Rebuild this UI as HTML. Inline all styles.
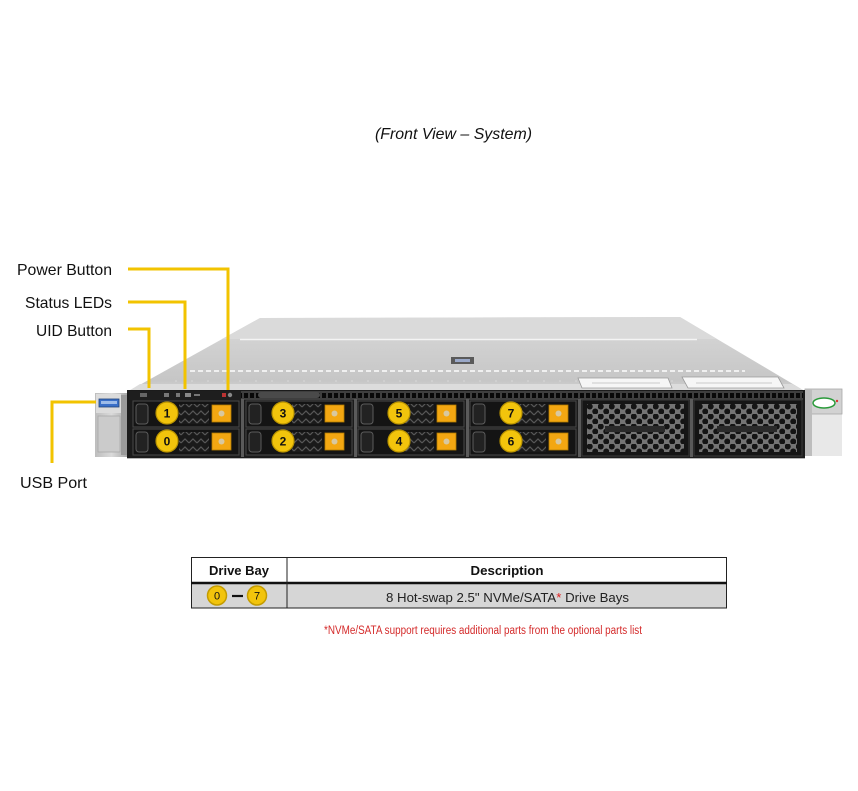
<!DOCTYPE html>
<html><head><meta charset="utf-8"><style>
html,body{margin:0;padding:0;background:#fff;}
svg{display:block;}
text{font-family:"Liberation Sans",Arial,sans-serif;}
</style></head><body>
<svg width="858" height="791" viewBox="0 0 858 791" xmlns="http://www.w3.org/2000/svg">
<defs>
  <linearGradient id="topg" x1="0" y1="0" x2="0" y2="1">
    <stop offset="0" stop-color="#dcdcdc"/>
    <stop offset="0.3" stop-color="#d2d2d2"/>
    <stop offset="0.85" stop-color="#c6c6c6"/>
    <stop offset="1" stop-color="#d6d6d6"/>
  </linearGradient>
  <linearGradient id="earg" x1="0" y1="0" x2="1" y2="0">
    <stop offset="0" stop-color="#bdbdbd"/>
    <stop offset="0.5" stop-color="#dadada"/>
    <stop offset="1" stop-color="#a8a8a8"/>
  </linearGradient>
  <pattern id="vent" width="6" height="9" patternUnits="userSpaceOnUse" x="129" y="391">
    <rect width="6" height="9" fill="#3e3e3e"/>
    <rect x="1" y="2" width="4" height="5" fill="#080808"/>
  </pattern>
  <pattern id="hex" width="11" height="10" patternUnits="userSpaceOnUse" x="587" y="404">
    <rect width="11" height="10" fill="#747474"/>
    <circle cx="2.75" cy="2.5" r="3" fill="#141414"/>
    <circle cx="8.25" cy="7.5" r="3" fill="#141414"/>
  </pattern>
  <pattern id="grill" width="8" height="8" patternUnits="userSpaceOnUse">
    <rect width="8" height="8" fill="#1a1a1a"/>
    <path d="M0 6 L4 2 L8 6" stroke="#585858" stroke-width="1.2" fill="none"/>
  </pattern>
</defs>

<!-- Title -->
<text x="375" y="139" font-size="16" font-style="italic" fill="#111" textLength="157" lengthAdjust="spacingAndGlyphs">(Front View – System)</text>

<!-- Chassis top -->
<polygon points="260,318 680,317 803,390 127,392" fill="url(#topg)"/>
<polygon points="260,318 680,317 717,339 222,339" fill="#dadada"/>
<line x1="240" y1="339.5" x2="697" y2="339.5" stroke="#f4f4f4" stroke-width="1.5"/>
<line x1="190" y1="371" x2="745" y2="371" stroke="#f0f0f0" stroke-width="2" stroke-dasharray="5,3"/>
<line x1="175" y1="381" x2="770" y2="381" stroke="#d8d8d8" stroke-width="1" stroke-dasharray="2,14"/>
<polygon points="140,384 792,384 803,390 127,392" fill="#dcdcdc"/>
<rect x="451" y="357" width="23" height="7" fill="#5a5a5a"/>
<rect x="455" y="359" width="15" height="3" fill="#9aa8c8"/>
<polygon points="578,378 668,378 672,388 582,388" fill="#f6f6f6" stroke="#9a9a9a" stroke-width="0.8"/>
<line x1="592" y1="383" x2="660" y2="383" stroke="#bbb" stroke-width="0.8"/>
<polygon points="682,377 778,377 784,388 688,388" fill="#f6f6f6" stroke="#9a9a9a" stroke-width="0.8"/>
<line x1="696" y1="383" x2="772" y2="383" stroke="#bbb" stroke-width="0.8"/>

<!-- Left ear -->
<rect x="95" y="393" width="33" height="64" fill="url(#earg)"/>
<rect x="96" y="394" width="25" height="19" fill="#dcdcdc"/>
<rect x="99" y="399" width="20" height="8" fill="#3a6fc8" stroke="#22447a" stroke-width="0.8"/>
<rect x="101" y="401" width="16" height="3" fill="#9dbbe8"/>
<rect x="98" y="416" width="22" height="36" fill="#cbcbcb" stroke="#a8a8a8" stroke-width="0.8"/>
<rect x="121" y="395" width="6" height="60" fill="#9a9a9a"/>

<!-- Right ear -->
<rect x="805" y="414" width="37" height="42" fill="#e8e8e8"/>
<rect x="805" y="389" width="37" height="25" fill="#d2d2d2" stroke="#a8a8a8" stroke-width="0.8"/>
<ellipse cx="824" cy="403" rx="11" ry="5" fill="#fff" stroke="#2a9a3a" stroke-width="1.5"/>
<circle cx="837" cy="401" r="1.2" fill="#d33"/>
<rect x="805" y="389" width="7" height="67" fill="#bdbdbd"/>

<!-- Front panel -->
<rect x="127" y="390" width="678" height="68" fill="#1b1b1b"/>
<rect x="129" y="391" width="674" height="9" fill="url(#vent)"/>
<rect x="129" y="391" width="112" height="9" fill="#1e1e1e"/>
<rect x="140" y="393" width="7" height="4" fill="#666"/>
<rect x="185" y="393" width="6" height="4" fill="#888"/>
<rect x="164" y="393" width="5" height="4" fill="#777"/>
<rect x="176" y="393" width="4" height="4" fill="#777"/>
<rect x="194" y="394" width="6" height="2" fill="#777"/>
<rect x="222" y="393" width="4" height="4" fill="#b33"/>
<circle cx="230" cy="395" r="2.2" fill="#888"/>
<rect x="258" y="392" width="62" height="6" rx="3" fill="#4a4a4a"/>
<line x1="127" y1="458.5" x2="805" y2="458.5" stroke="#b5b5b5" stroke-width="1"/>

<!-- Column dividers -->
<g fill="#5a5a5a">
<rect x="241" y="399" width="3" height="58"/>
<rect x="354" y="399" width="3" height="58"/>
<rect x="466" y="399" width="3" height="58"/>
<rect x="578" y="399" width="3" height="58"/>
<rect x="690" y="399" width="3" height="58"/>
</g>

<!-- Drive slots -->
<g>
  <g transform="translate(133,401)">
    <rect width="106" height="26" fill="#141414" stroke="#4a4a4a"/>
    <rect x="3" y="3" width="12" height="20" rx="3" fill="#222" stroke="#5c5c5c"/>
    <rect x="46" y="3" width="30" height="20" fill="url(#grill)"/>
    <rect x="79" y="4" width="19" height="17" fill="#f3a712" stroke="#b67c00" stroke-width="0.8"/>
    <circle cx="88.5" cy="12.5" r="3" fill="#d8c8a0"/>
  </g>
  <g transform="translate(133,429)">
    <rect width="106" height="26" fill="#141414" stroke="#4a4a4a"/>
    <rect x="3" y="3" width="12" height="20" rx="3" fill="#222" stroke="#5c5c5c"/>
    <rect x="46" y="3" width="30" height="20" fill="url(#grill)"/>
    <rect x="79" y="4" width="19" height="17" fill="#f3a712" stroke="#b67c00" stroke-width="0.8"/>
    <circle cx="88.5" cy="12.5" r="3" fill="#d8c8a0"/>
  </g>
  <g transform="translate(246,401)">
    <rect width="106" height="26" fill="#141414" stroke="#4a4a4a"/>
    <rect x="3" y="3" width="12" height="20" rx="3" fill="#222" stroke="#5c5c5c"/>
    <rect x="46" y="3" width="30" height="20" fill="url(#grill)"/>
    <rect x="79" y="4" width="19" height="17" fill="#f3a712" stroke="#b67c00" stroke-width="0.8"/>
    <circle cx="88.5" cy="12.5" r="3" fill="#d8c8a0"/>
  </g>
  <g transform="translate(246,429)">
    <rect width="106" height="26" fill="#141414" stroke="#4a4a4a"/>
    <rect x="3" y="3" width="12" height="20" rx="3" fill="#222" stroke="#5c5c5c"/>
    <rect x="46" y="3" width="30" height="20" fill="url(#grill)"/>
    <rect x="79" y="4" width="19" height="17" fill="#f3a712" stroke="#b67c00" stroke-width="0.8"/>
    <circle cx="88.5" cy="12.5" r="3" fill="#d8c8a0"/>
  </g>
  <g transform="translate(358,401)">
    <rect width="106" height="26" fill="#141414" stroke="#4a4a4a"/>
    <rect x="3" y="3" width="12" height="20" rx="3" fill="#222" stroke="#5c5c5c"/>
    <rect x="46" y="3" width="30" height="20" fill="url(#grill)"/>
    <rect x="79" y="4" width="19" height="17" fill="#f3a712" stroke="#b67c00" stroke-width="0.8"/>
    <circle cx="88.5" cy="12.5" r="3" fill="#d8c8a0"/>
  </g>
  <g transform="translate(358,429)">
    <rect width="106" height="26" fill="#141414" stroke="#4a4a4a"/>
    <rect x="3" y="3" width="12" height="20" rx="3" fill="#222" stroke="#5c5c5c"/>
    <rect x="46" y="3" width="30" height="20" fill="url(#grill)"/>
    <rect x="79" y="4" width="19" height="17" fill="#f3a712" stroke="#b67c00" stroke-width="0.8"/>
    <circle cx="88.5" cy="12.5" r="3" fill="#d8c8a0"/>
  </g>
  <g transform="translate(470,401)">
    <rect width="106" height="26" fill="#141414" stroke="#4a4a4a"/>
    <rect x="3" y="3" width="12" height="20" rx="3" fill="#222" stroke="#5c5c5c"/>
    <rect x="46" y="3" width="30" height="20" fill="url(#grill)"/>
    <rect x="79" y="4" width="19" height="17" fill="#f3a712" stroke="#b67c00" stroke-width="0.8"/>
    <circle cx="88.5" cy="12.5" r="3" fill="#d8c8a0"/>
  </g>
  <g transform="translate(470,429)">
    <rect width="106" height="26" fill="#141414" stroke="#4a4a4a"/>
    <rect x="3" y="3" width="12" height="20" rx="3" fill="#222" stroke="#5c5c5c"/>
    <rect x="46" y="3" width="30" height="20" fill="url(#grill)"/>
    <rect x="79" y="4" width="19" height="17" fill="#f3a712" stroke="#b67c00" stroke-width="0.8"/>
    <circle cx="88.5" cy="12.5" r="3" fill="#d8c8a0"/>
  </g>
</g>

<!-- Number circles -->
<g fill="#f2c40c" stroke="#b89200" stroke-width="1.2">
  <circle cx="167" cy="413" r="11"/><circle cx="167" cy="441" r="11"/>
  <circle cx="283" cy="413" r="11"/><circle cx="283" cy="441" r="11"/>
  <circle cx="399" cy="413" r="11"/><circle cx="399" cy="441" r="11"/>
  <circle cx="511" cy="413" r="11"/><circle cx="511" cy="441" r="11"/>
</g>
<g font-size="12" font-weight="bold" fill="#111" text-anchor="middle">
  <text x="167" y="417.5">1</text><text x="167" y="445.5">0</text>
  <text x="283" y="417.5">3</text><text x="283" y="445.5">2</text>
  <text x="399" y="417.5">5</text><text x="399" y="445.5">4</text>
  <text x="511" y="417.5">7</text><text x="511" y="445.5">6</text>
</g>

<!-- Blank bays -->
<rect x="582" y="400" width="107" height="56" fill="#151515" stroke="#3a3a3a"/>
<rect x="587" y="404" width="97" height="48" fill="url(#hex)"/>
<rect x="605" y="426" width="60" height="6" fill="#2a2a2a"/>
<rect x="694" y="400" width="108" height="56" fill="#151515" stroke="#3a3a3a"/>
<rect x="699" y="404" width="98" height="48" fill="url(#hex)"/>
<rect x="717" y="426" width="60" height="6" fill="#2a2a2a"/>

<!-- Callout lines -->
<g stroke="#f2c300" stroke-width="3" fill="none">
  <path d="M128 269 H228 V390"/>
  <path d="M128 302 H185 V389"/>
  <path d="M128 329 H149 V388"/>
  <path d="M96 402 H52 V463"/>
</g>

<!-- Labels -->
<g font-size="16" fill="#111" text-anchor="end">
  <text x="112" y="275" textLength="95" lengthAdjust="spacingAndGlyphs">Power Button</text>
  <text x="112" y="308" textLength="87" lengthAdjust="spacingAndGlyphs">Status LEDs</text>
  <text x="112" y="336" textLength="76" lengthAdjust="spacingAndGlyphs">UID Button</text>
</g>
<text x="20" y="488" font-size="16" fill="#111" textLength="67" lengthAdjust="spacingAndGlyphs">USB Port</text>

<!-- Table -->
<rect x="191.5" y="557.5" width="535" height="25" fill="#fff"/>
<rect x="191.5" y="583" width="535" height="25" fill="#d6d6d6"/>
<rect x="191.5" y="557.5" width="535" height="50.5" fill="none" stroke="#222" stroke-width="1"/>
<line x1="191" y1="583" x2="727" y2="583" stroke="#111" stroke-width="2.5"/>
<line x1="287" y1="557.5" x2="287" y2="608" stroke="#222" stroke-width="1"/>
<text x="239" y="575" font-size="13" font-weight="bold" fill="#111" text-anchor="middle" textLength="60" lengthAdjust="spacingAndGlyphs">Drive Bay</text>
<text x="507" y="575" font-size="13" font-weight="bold" fill="#111" text-anchor="middle" textLength="73" lengthAdjust="spacingAndGlyphs">Description</text>
<circle cx="217" cy="595.5" r="9.5" fill="#f2c40c" stroke="#c49c00" stroke-width="1.5"/>
<circle cx="257" cy="595.5" r="9.5" fill="#f2c40c" stroke="#c49c00" stroke-width="1.5"/>
<text x="217" y="599.5" font-size="11" fill="#111" text-anchor="middle">0</text>
<text x="257" y="599.5" font-size="11" fill="#111" text-anchor="middle">7</text>
<line x1="232" y1="596" x2="243" y2="596" stroke="#111" stroke-width="2.2"/>
<text x="386" y="602" font-size="13" fill="#222" textLength="243" lengthAdjust="spacingAndGlyphs">8 Hot-swap 2.5" NVMe/SATA<tspan fill="#e02020">*</tspan> Drive Bays</text>
<text x="324" y="634" font-size="11.5" fill="#d42a2a" textLength="318" lengthAdjust="spacingAndGlyphs">*NVMe/SATA support requires additional parts from the optional parts list</text>
</svg>
</body></html>
